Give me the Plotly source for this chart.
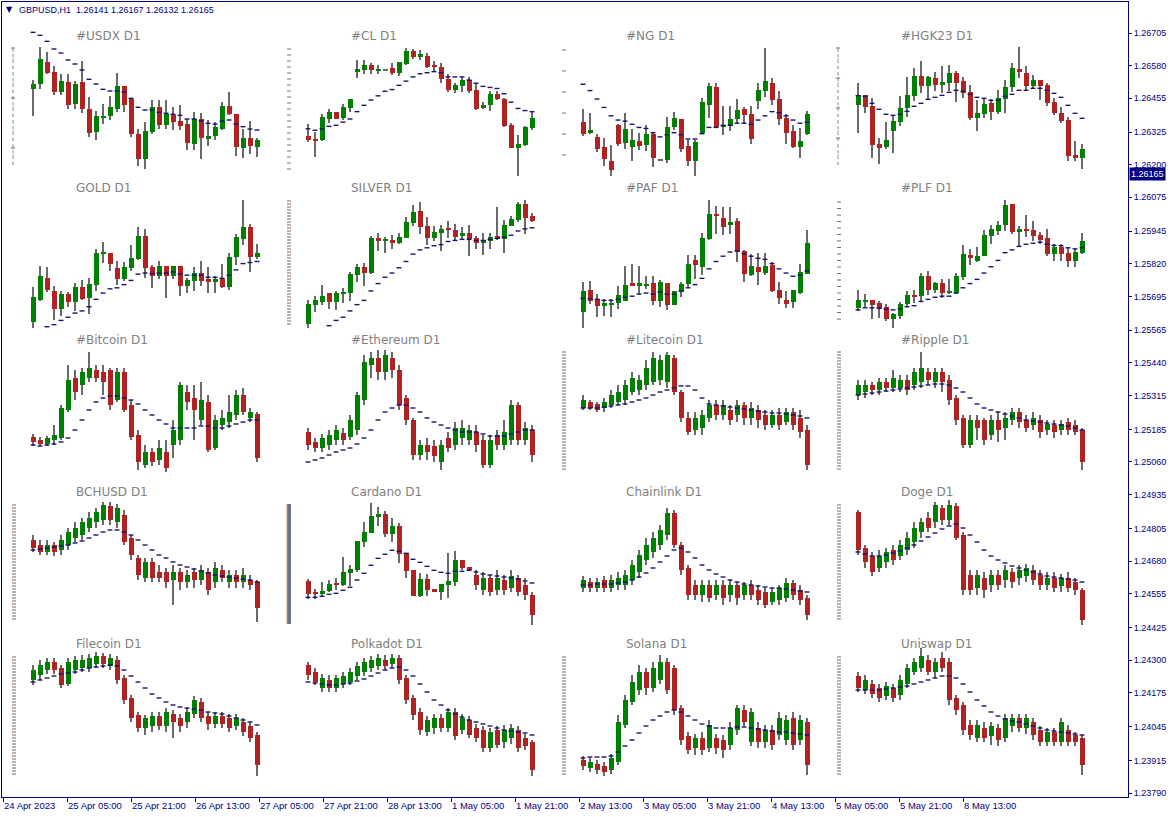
import plotly.graph_objects as go

# ---------------- main chart axis data ----------------
MAIN_TITLE = "GBPUSD,H1  1.26141 1.26167 1.26132 1.26165"
LAST_PRICE = 1.26165
PRICE_TICKS = ["1.26705", "1.26580", "1.26455", "1.26325", "1.26200", "1.26075", "1.25945",
               "1.25820", "1.25695", "1.25565", "1.25440", "1.25315", "1.25185", "1.25060",
               "1.24935", "1.24805", "1.24680", "1.24555", "1.24425", "1.24300", "1.24175",
               "1.24045", "1.23915", "1.23790"]
PRICE_RANGE = [1.23775, 1.26824]
TIME_TICKS = ["24 Apr 2023", "25 Apr 05:00", "25 Apr 21:00", "26 Apr 13:00", "27 Apr 05:00",
              "27 Apr 21:00", "28 Apr 13:00", "1 May 05:00", "1 May 21:00", "2 May 13:00",
              "3 May 05:00", "3 May 21:00", "4 May 13:00", "5 May 05:00", "5 May 21:00",
              "8 May 13:00"]
BARS_PER_LABEL = 16
H1_BARS = 281.5

# ---------------- dashboard panels (relative price levels) ----------------
PANEL_NAMES = ["#USDX D1", "#CL D1", "#NG D1", "#HGK23 D1",
               "GOLD D1", "SILVER D1", "#PAF D1", "#PLF D1",
               "#Bitcoin D1", "#Ethereum D1", "#Litecoin D1", "#Ripple D1",
               "BCHUSD D1", "Cardano D1", "Chainlink D1", "Doge D1",
               "Filecoin D1", "Polkadot D1", "Solana D1", "Uniswap D1"]

USDX_O = [333,348,415,384,324,354,289,354,273,205,247,252,274,342,304,198,124,205,279,225,255,237,228,169,243,184,193,214,282,258,157,187,160]
USDX_H = [360,460,445,402,378,378,358,417,309,267,288,312,381,342,304,214,234,301,301,301,279,285,243,264,260,240,234,294,324,258,213,237,187]
USDX_L = [252,333,378,315,315,274,274,262,188,181,228,240,264,264,188,103,94,198,214,214,211,211,151,151,124,163,181,211,255,133,127,138,130]
USDX_C = [348,423,381,324,358,286,348,274,202,252,252,279,342,286,199,124,207,279,225,258,235,223,171,243,187,193,220,282,259,160,187,163,180]
USDX_MA = [503,494,476,453,441,420,408,390,362,348,332,327,327,324,305,278,270,270,263,260,257,254,243,243,237,230,228,237,240,228,220,213,210]

CL_O = [284,276,273,333,351,336,363,466,472,486,472,472,477,463,490,525,508,513,486,480,447,415,427,444,414,363,372,404,390,315,250,259,306]
CL_H = [317,294,345,360,351,374,390,501,501,492,486,472,492,495,534,531,528,520,498,492,459,435,453,453,432,381,413,413,393,320,286,312,353]
CL_L = [267,225,268,322,333,330,352,448,460,460,460,472,457,454,487,502,499,478,466,436,409,406,409,406,358,360,354,386,310,248,168,256,300]
CL_C = [273,268,338,351,333,366,390,474,486,472,474,472,463,495,525,508,516,481,481,445,415,429,444,412,361,372,404,388,312,250,261,309,336]
CL_MA = [304,300,304,311,314,323,332,353,371,386,398,411,416,428,440,452,461,464,467,464,452,452,452,443,434,425,422,419,404,380,362,356,353]

NG_O = [324,292,282,252,213,315,265,253,270,259,288,216,214,309,333,255,211,291,372,423,309,312,333,360,345,384,412,435,390,336,297,253,288]
NG_H = [360,348,289,279,258,318,348,303,291,315,291,216,339,351,333,273,273,393,435,435,369,369,390,366,369,435,534,450,411,345,315,306,354]
NG_L = [283,289,238,199,169,256,247,211,244,241,196,216,208,300,238,199,169,288,336,306,285,297,321,318,261,360,396,372,315,261,250,220,285]
NG_C = [289,300,247,217,187,262,303,273,256,288,220,216,309,336,247,211,267,381,426,309,315,333,357,342,276,414,441,387,333,291,252,270,345]
NG_MA = [431,413,389,365,341,329,326,317,308,305,293,281,287,293,287,275,275,290,308,308,314,314,320,320,317,329,341,353,350,341,329,320,323]

HGK23_O = [345,374,342,228,219,268,295,336,373,432,403,426,406,412,441,417,384,307,319,351,325,364,399,453,441,403,420,405,354,321,301,195,187]
HGK23_H = [412,374,365,246,294,315,372,429,456,478,432,444,462,465,447,429,405,360,367,364,390,420,471,519,462,435,420,411,366,339,309,237,228]
HGK23_L = [262,322,187,169,214,202,282,309,358,382,360,388,382,388,355,367,299,268,307,301,319,322,385,426,390,396,361,343,316,292,178,178,154]
HGK23_C = [374,339,225,217,240,297,336,375,432,403,429,406,414,441,412,382,307,321,348,325,366,399,456,445,403,420,403,351,322,298,193,187,213]
HGK23_MA = [373,371,350,332,317,314,317,326,341,350,362,368,374,383,389,386,377,368,365,359,359,371,377,389,389,395,395,389,380,368,344,320,305]

GOLD_O = [190,253,315,279,226,270,247,288,259,295,385,387,342,313,342,369,435,345,322,348,322,348,292,307,330,312,304,312,289,375,427,459,375]
GOLD_H = [288,348,345,291,279,276,302,309,315,399,417,387,363,360,408,459,456,351,363,348,348,348,315,345,363,345,321,354,387,441,537,468,411]
GOLD_L = [172,250,274,196,208,232,220,253,211,277,357,336,294,307,336,366,316,286,313,259,313,265,271,277,292,271,271,286,280,351,409,333,369]
GOLD_C = [261,321,280,226,270,247,288,256,297,387,387,355,313,345,372,435,342,322,348,322,348,292,309,330,307,304,312,289,375,432,459,375,387]
GOLD_MA = [None,None,176,182,194,203,215,221,233,254,272,284,287,296,308,326,329,327,329,329,332,326,323,323,323,317,317,314,323,338,356,359,362]

SILVER_O = [184,238,247,273,247,271,271,324,345,330,429,420,423,414,429,471,507,462,429,444,456,453,435,444,429,414,420,435,426,462,480,525,492]
SILVER_H = [253,265,294,273,279,286,333,354,357,435,444,432,438,444,489,522,531,489,462,465,477,468,459,465,435,444,444,516,480,492,531,537,501]
SILVER_L = [172,217,238,226,223,244,250,304,292,327,393,387,399,411,429,462,441,408,420,393,429,420,423,378,399,381,399,423,387,462,474,441,474]
SILVER_C = [240,252,264,247,273,273,327,345,330,429,420,426,414,432,474,504,459,429,447,456,453,432,444,426,414,423,432,426,465,483,525,486,477]
SILVER_MA = [None,None,None,179,194,203,221,239,251,278,299,317,329,344,362,383,395,401,407,410,419,422,425,425,422,422,425,428,431,437,449,455,458]

PAF_O = [217,282,255,235,238,244,250,300,292,294,300,250,300,238,276,297,366,345,426,498,486,465,477,393,324,345,330,351,282,252,247,273,327]
PAF_H = [303,306,270,255,255,291,348,354,348,321,321,309,300,279,303,381,381,444,537,519,516,516,486,396,384,387,387,360,303,279,282,354,453]
PAF_L = [172,241,205,208,205,226,250,292,270,284,238,232,223,238,261,288,312,324,423,441,438,441,360,303,321,294,324,276,240,229,229,268,327]
PAF_C = [279,250,235,243,243,267,294,292,300,297,250,303,238,279,297,354,351,429,498,492,459,474,390,327,348,333,348,279,258,241,282,333,414]
PAF_MA = [257,256,254,251,251,254,260,263,269,272,269,275,269,269,278,287,296,314,341,362,377,389,392,384,377,371,368,356,341,329,320,323,335]

PLF_O = [228,247,252,243,231,199,208,240,267,264,321,282,300,273,273,318,381,363,378,435,450,465,525,447,456,453,438,429,384,402,387,363,387]
PLF_H = [282,270,252,249,240,214,247,279,282,330,336,303,312,312,330,408,399,402,453,465,477,537,525,462,495,477,447,456,411,411,402,399,444]
PLF_L = [222,231,199,202,193,172,199,234,243,246,267,273,258,270,270,309,351,360,378,411,438,450,441,405,432,420,411,378,363,363,345,345,384]
PLF_C = [252,252,238,226,199,211,240,267,261,321,282,300,273,279,321,384,372,378,438,456,465,522,447,456,450,435,423,384,402,384,363,390,420]
PLF_MA = [224,230,230,229,226,224,227,233,236,248,254,260,263,263,272,287,299,311,329,347,365,387,395,405,411,414,417,411,408,407,401,398,401]

BTC_O = [563,560,556,560,562,590,622,615,622,630,628,630,600,628,595,565,535,548,540,548,555,560,608,602,580,598,552,575,578,585,605,582,586]
BTC_H = [566,563,564,575,595,635,630,632,648,635,635,632,632,632,600,570,555,552,560,560,580,618,615,615,618,605,585,590,605,610,612,592,588]
BTC_L = [554,554,554,555,560,588,600,605,618,618,605,590,598,588,560,530,532,534,535,528,542,555,590,560,575,548,550,570,572,580,585,578,538]
BTC_C = [558,556,562,565,592,620,608,628,632,622,618,595,628,590,563,538,548,538,552,532,570,615,598,590,600,550,580,582,588,605,588,588,542]
BTC_MA = [555,554,555,556,558,562,570,580,590,598,602,604,604,602,600,596,590,585,580,576,572,572,572,572,574,574,572,572,574,576,578,580,580]

ETH_O = [568,558,552,555,560,567,563,570,600,635,642,628,642,630,602,580,545,555,554,538,562,555,562,560,568,560,535,565,555,560,595,560,570]
ETH_H = [572,562,566,570,575,572,585,608,645,648,650,650,648,635,605,582,560,562,560,560,568,578,580,575,575,565,565,570,580,600,598,578,575]
ETH_L = [550,548,548,550,555,555,560,565,595,622,620,620,622,590,575,540,540,540,538,530,548,550,555,555,548,532,532,550,550,555,555,555,538]
ETH_C = [555,552,562,565,570,560,580,605,638,642,628,645,630,595,580,545,555,548,544,555,552,572,572,570,555,535,560,555,568,595,560,572,545]
ETH_MA = [538,540,542,545,548,550,552,556,562,570,580,588,592,595,595,592,588,582,578,575,572,570,568,568,568,566,564,564,564,566,568,570,570]

LTC_O = [592,598,596,592,595,598,600,608,610,615,618,620,618,642,608,582,570,572,582,595,585,590,585,595,582,590,585,575,585,578,588,582,570]
LTC_H = [605,600,598,602,610,615,620,628,625,640,648,645,648,645,610,588,588,590,600,600,600,595,600,598,598,595,590,590,592,592,592,590,575]
LTC_L = [590,590,588,588,592,595,595,605,605,610,615,615,612,605,578,565,565,565,578,580,580,575,578,575,575,572,570,572,570,575,570,562,530]
LTC_C = [600,592,590,598,605,608,615,622,620,632,642,640,645,608,582,568,582,585,595,585,595,580,595,582,592,580,575,585,575,588,575,568,535]
LTC_MA = [592,592,592,593,594,595,596,598,600,602,605,608,610,612,614,614,610,602,596,595,594,593,592,591,590,589,588,587,587,586,585,584,582]

XRP_O = [605,608,615,610,618,612,612,620,615,618,628,618,628,620,602,582,555,580,580,565,580,572,580,588,580,575,580,570,575,570,578,575,570]
XRP_H = [620,620,618,622,622,630,625,625,632,648,632,632,632,625,605,585,585,585,582,585,588,588,592,592,585,588,585,580,580,580,582,580,572]
XRP_L = [600,602,605,605,608,608,608,605,610,612,615,612,608,595,575,552,552,560,555,560,558,560,575,572,568,570,562,565,562,565,565,565,530]
XRP_C = [615,615,610,618,612,622,620,610,628,632,620,628,618,600,580,555,580,572,560,580,570,582,588,578,572,582,568,576,568,576,570,568,538]
XRP_MA = [605,606,607,608,609,610,611,612,613,614,615,616,616,615,612,608,602,596,592,590,588,586,584,582,580,579,578,577,576,575,574,572,570]

BCH_O = [460,455,448,455,450,455,462,465,472,478,480,494,478,485,462,442,422,438,428,428,420,428,418,428,420,428,418,430,418,425,418,420,418]
BCH_H = [465,460,460,458,465,472,478,482,488,492,498,498,496,490,465,445,442,442,435,432,435,432,430,432,435,432,438,435,430,430,432,425,420]
BCH_L = [448,445,445,444,445,450,458,460,468,472,475,475,472,455,440,420,418,418,418,412,395,410,412,412,415,405,412,418,412,412,412,410,378]
BCH_C = [452,448,455,448,460,468,472,478,482,488,495,480,492,458,445,425,438,422,422,418,428,418,425,420,430,410,432,422,425,418,425,415,392]
BCH_MA = [450,451,452,453,454,455,457,459,462,465,468,470,470,468,465,460,455,450,445,442,438,435,433,431,429,427,425,424,423,422,421,420,418]

ADA_O = [297,261,259,267,288,286,321,330,414,441,489,498,439,462,381,330,253,303,273,265,286,294,360,339,315,270,306,270,300,276,306,285,255]
ADA_H = [303,274,294,301,306,369,345,417,474,531,519,507,486,471,381,330,321,318,273,288,381,387,360,339,330,324,315,330,315,330,315,306,264]
ADA_L = [243,243,252,264,270,282,282,324,400,441,462,430,414,352,307,253,250,253,265,241,247,282,330,330,270,255,252,255,255,264,252,240,165]
ADA_C = [259,259,267,288,286,324,333,417,444,492,498,439,462,379,328,253,303,270,265,288,297,360,337,330,285,306,264,306,270,312,264,255,195]
ADA_MA = [248,248,251,257,260,269,278,300,320,344,365,377,389,386,380,362,353,341,329,323,320,326,326,329,324,318,315,312,309,306,303,297,291]

LINK_O = [412,418,412,420,412,415,415,420,428,440,448,455,465,487,455,432,415,405,415,405,415,405,415,405,415,410,408,398,400,402,417,410,402]
LINK_H = [424,422,422,424,425,428,430,440,450,462,468,475,492,490,458,435,420,420,420,420,420,420,418,418,420,415,412,412,415,422,420,415,405]
LINK_L = [408,408,408,408,408,410,410,415,422,435,442,450,460,452,425,400,400,398,398,400,395,398,395,400,400,395,392,395,395,398,400,395,380]
LINK_C = [420,412,418,412,420,422,425,435,445,455,462,470,487,455,430,405,405,415,402,415,402,415,402,415,405,400,395,408,412,417,405,400,385]
LINK_MA = [415,415,416,416,416,417,418,420,423,427,432,438,444,450,452,448,442,435,430,426,423,420,418,416,415,414,413,412,412,411,410,409,408]

DOGE_O = [488,452,444,432,438,450,444,450,458,468,482,478,492,480,494,465,425,412,422,415,425,420,428,422,424,430,425,415,422,414,422,418,410]
DOGE_H = [490,455,448,450,452,455,460,468,478,482,488,498,495,500,497,468,430,430,428,430,430,435,432,435,436,435,430,428,428,426,428,422,412]
DOGE_L = [445,432,424,428,432,435,440,445,452,462,468,472,475,475,460,405,405,405,402,408,410,412,412,415,418,415,410,410,408,408,408,405,375]
DOGE_C = [450,438,428,444,448,440,455,462,472,478,472,495,480,495,462,410,410,425,410,425,415,430,418,430,432,420,415,422,412,422,412,410,380]
DOGE_MA = [448,446,444,444,445,447,449,452,455,459,463,467,471,474,476,472,465,458,450,444,440,437,434,432,430,428,426,424,423,422,421,420,418]

FIL_O = [320,325,330,338,332,316,330,332,332,336,344,334,340,322,302,285,272,274,284,274,286,282,278,286,298,284,276,284,282,274,278,274,265]
FIL_H = [335,340,342,342,335,342,344,345,346,348,347,346,344,325,305,288,285,288,288,292,290,286,292,304,302,288,288,288,286,286,282,278,268]
FIL_L = [315,320,326,326,312,314,326,328,328,332,332,330,316,296,278,268,265,268,270,268,262,268,272,282,278,270,272,272,268,270,264,258,224]
FIL_C = [330,335,338,330,315,338,340,340,342,344,336,342,320,300,282,272,282,284,274,288,278,274,288,300,282,276,284,276,272,282,268,262,235]
FIL_MA = [318,320,322,324,326,327,328,330,332,333,334,335,334,330,324,318,312,306,302,298,295,293,292,291,290,288,287,286,284,282,280,278,275]

DOT_O = [335,328,312,320,312,316,318,324,328,332,334,340,336,342,322,302,288,268,272,282,272,288,270,280,272,270,252,270,258,262,270,262,258]
DOT_H = [338,332,326,325,325,328,332,338,342,344,346,345,346,345,325,305,292,284,286,286,292,292,286,284,276,274,272,274,275,276,274,266,260]
DOT_L = [320,315,308,308,308,312,315,320,324,328,330,330,332,316,296,280,265,264,266,268,268,260,266,262,258,248,248,252,252,256,248,250,224]
DOT_C = [325,318,322,312,322,324,328,334,338,340,342,334,342,320,300,285,270,280,282,272,288,264,282,265,262,252,268,255,270,272,252,254,230]
DOT_MA = [318,317,316,315,315,316,317,319,321,324,327,330,332,333,330,324,316,308,300,295,290,286,283,280,278,276,274,272,270,269,268,267,265]

SOL_O = [240,232,236,234,230,238,275,298,310,328,312,320,338,332,292,264,252,262,252,262,260,255,270,290,258,272,258,270,265,260,282,260,278]
SOL_H = [244,242,240,238,246,285,305,325,335,332,338,345,342,335,295,268,266,268,280,266,265,278,295,295,292,278,275,275,288,285,288,285,282]
SOL_L = [230,228,226,224,226,235,272,295,305,305,308,316,306,285,255,246,245,245,248,246,242,250,265,274,254,252,252,250,260,255,250,255,225]
SOL_C = [234,238,230,228,242,278,300,318,328,312,332,338,310,290,260,250,262,250,275,252,250,272,292,278,288,258,270,255,282,280,255,280,235]
SOL_MA = [242,243,243,243,244,248,254,260,267,274,280,284,288,290,288,284,280,276,274,272,272,272,273,273,272,271,270,269,268,268,267,266,265]

UNI_O = [324,310,316,312,304,312,305,316,328,332,340,328,342,338,302,295,275,262,272,264,272,262,274,282,272,278,270,258,268,258,270,265,262]
UNI_H = [328,325,320,316,318,316,325,336,342,352,345,342,348,342,305,298,280,280,278,278,276,286,286,286,286,282,274,272,272,282,275,268,265]
UNI_L = [308,306,302,298,300,298,300,312,325,328,325,322,328,295,285,265,260,258,258,255,254,258,268,268,266,260,254,254,254,254,254,254,225]
UNI_C = [312,320,306,302,314,302,320,332,338,344,328,338,332,300,290,270,265,275,262,274,260,282,282,272,282,265,258,268,258,278,258,258,235]
UNI_MA = [310,310,310,310,311,312,313,314,316,318,320,322,324,324,322,316,308,300,294,288,284,281,279,278,276,274,272,270,269,268,267,266,265]

PANEL_DATA = [
    (USDX_O, USDX_H, USDX_L, USDX_C, USDX_MA),
    (CL_O, CL_H, CL_L, CL_C, CL_MA),
    (NG_O, NG_H, NG_L, NG_C, NG_MA),
    (HGK23_O, HGK23_H, HGK23_L, HGK23_C, HGK23_MA),
    (GOLD_O, GOLD_H, GOLD_L, GOLD_C, GOLD_MA),
    (SILVER_O, SILVER_H, SILVER_L, SILVER_C, SILVER_MA),
    (PAF_O, PAF_H, PAF_L, PAF_C, PAF_MA),
    (PLF_O, PLF_H, PLF_L, PLF_C, PLF_MA),
    (BTC_O, BTC_H, BTC_L, BTC_C, BTC_MA),
    (ETH_O, ETH_H, ETH_L, ETH_C, ETH_MA),
    (LTC_O, LTC_H, LTC_L, LTC_C, LTC_MA),
    (XRP_O, XRP_H, XRP_L, XRP_C, XRP_MA),
    (BCH_O, BCH_H, BCH_L, BCH_C, BCH_MA),
    (ADA_O, ADA_H, ADA_L, ADA_C, ADA_MA),
    (LINK_O, LINK_H, LINK_L, LINK_C, LINK_MA),
    (DOGE_O, DOGE_H, DOGE_L, DOGE_C, DOGE_MA),
    (FIL_O, FIL_H, FIL_L, FIL_C, FIL_MA),
    (DOT_O, DOT_H, DOT_L, DOT_C, DOT_MA),
    (SOL_O, SOL_H, SOL_L, SOL_C, SOL_MA),
    (UNI_O, UNI_H, UNI_L, UNI_C, UNI_MA),
]

# vertical scale of each panel: (pixel origin, units per pixel)
PANEL_SCALE = [(0, 3), (25, 2.851), (25, 2.851), (20, 3),
               (178, 2.851), (178, 2.851), (178, 2.851), (178, 2.851),
               (400, 1), (400, 1), (400, 1), (400, 1),
               (400, 1), (480, 3), (400, 1), (400, 1),
               (400, 1), (400, 1), (400, 1), (400, 1)]

# ---------------- styling / geometry ----------------
W, H = 1174, 817
PL, PR, PT, PB = 2, 1128, 2, 797
NAVY = "#000080"
UP, DOWN, WICK, DOJI, MA_COL = "#008000", "#b22222", "#6a6a6a", "#6a6a6a", "#14146a"
FONT = "Liberation Sans"


def fx(px):
    return (px - PL) / (PR - PL)


def fy(py):
    return (PB - py) / (PB - PT)


fig = go.Figure()

# main (GBPUSD H1) axes
fig.add_trace(go.Scatter(x=[0], y=[LAST_PRICE], mode="markers", marker=dict(opacity=0),
                         hoverinfo="skip", showlegend=False))

layout = dict(
    width=W, height=H, margin=dict(l=PL, r=W - PR, t=PT, b=H - PB),
    paper_bgcolor="white", plot_bgcolor="white", showlegend=False,
    barmode="overlay", bargap=0,
    xaxis=dict(range=[-0.25, H1_BARS - 0.25],
               tickvals=[i * BARS_PER_LABEL for i in range(len(TIME_TICKS))],
               ticktext=TIME_TICKS, ticks="outside", ticklen=4, tickcolor=NAVY,
               ticklabelposition="outside right",
               showline=True, linecolor=NAVY, linewidth=1, mirror=True,
               showgrid=False, zeroline=False, fixedrange=True,
               tickfont=dict(family=FONT, size=9.5, color=NAVY)),
    yaxis=dict(side="right", range=PRICE_RANGE,
               tickvals=[float(t) for t in PRICE_TICKS], ticktext=PRICE_TICKS,
               ticks="outside", ticklen=3, tickcolor=NAVY,
               showline=True, linecolor=NAVY, linewidth=1, mirror=True,
               showgrid=False, zeroline=False, fixedrange=True,
               tickfont=dict(family=FONT, size=9, color=NAVY)),
)

annotations = []
shapes = []

for k, name in enumerate(PANEL_NAMES):
    r, c = divmod(k, 4)
    ax = k + 2
    x0 = 33 + 275 * c
    yt, yb = 24 + 152 * r, 184 + 152 * r
    oy, f = PANEL_SCALE[k]
    vtop = 600 - (yt - oy) * f
    vbot = 600 - (yb - oy) * f
    layout[f"xaxis{ax}"] = dict(domain=[fx(x0 - 21), fx(x0 + 245)], range=[-3, 35],
                                visible=False, anchor=f"y{ax}", fixedrange=True)
    layout[f"yaxis{ax}"] = dict(domain=[fy(yb), fy(yt)], range=[vbot, vtop],
                                visible=False, anchor=f"x{ax}", fixedrange=True)
    o, h, l, cl, ma = PANEL_DATA[k]
    n = len(o)
    idx = list(range(n))
    fig.add_trace(go.Bar(x=idx, y=[h[i] - l[i] for i in idx], base=[l[i] for i in idx],
                         width=1 / 7, marker=dict(color=WICK, line=dict(width=0)),
                         xaxis=f"x{ax}", yaxis=f"y{ax}", hoverinfo="skip"))
    minh = 1.0 * f
    bases, hts, cols = [], [], []
    for i in idx:
        lo, hi = min(o[i], cl[i]), max(o[i], cl[i])
        if hi - lo < minh:
            mid = (lo + hi) / 2
            lo, hi = mid - minh / 2, mid + minh / 2
        bases.append(lo)
        hts.append(hi - lo)
        if cl[i] > o[i]:
            cols.append(UP)
        elif cl[i] < o[i]:
            cols.append(DOWN)
        else:
            cols.append(DOJI)
    fig.add_trace(go.Bar(x=idx, y=hts, base=bases, width=5 / 7,
                         marker=dict(color=cols, line=dict(width=0)),
                         xaxis=f"x{ax}", yaxis=f"y{ax}", hoverinfo="skip"))
    fig.add_trace(go.Scatter(x=list(range(len(ma))), y=ma, mode="markers",
                             marker=dict(symbol="line-ew", size=3.5,
                                         line=dict(width=1.4, color=MA_COL)),
                             cliponaxis=False,
                             xaxis=f"x{ax}", yaxis=f"y{ax}", hoverinfo="skip"))
    annotations.append(dict(text=name, xref="paper", yref="paper",
                            x=fx(74 + 275 * c), y=fy(36 + 152 * r),
                            xanchor="left", yanchor="middle", showarrow=False,
                            font=dict(family="DejaVu Sans", size=12, color="#808080")))

# panel side scales (decoration)
SCALE_DECOR = [
    dict(x=13, y0=48, y1=165, ticks=[48, 98, 148], line=True),
    dict(x=289, y0=49, y1=169, step=6, line=False),
    dict(x=564, y0=50, y1=155, step=21, line=False),
    dict(x=838, y0=48, y1=167, ticks=[48, 78, 108, 138], line=True),
    dict(x=289, y0=201, y1=325, step=3, line=False),
    dict(x=839, y0=202, y1=321, step=6.5, line=False),
    dict(x=564, y0=352, y1=470, step=3, line=False),
    dict(x=839, y0=352, y1=470, step=3, line=False),
    dict(x=14, y0=505, y1=620, step=3, line=False),
    dict(x=839, y0=505, y1=620, step=3, line=False),
    dict(x=14, y0=657, y1=775, step=3, line=False),
    dict(x=564, y0=657, y1=775, step=3, line=False),
    dict(x=839, y0=657, y1=775, step=3, line=False),
]
for s in SCALE_DECOR:
    if s["line"]:
        shapes.append(dict(type="line", xref="paper", yref="paper",
                           x0=fx(s["x"]), x1=fx(s["x"]), y0=fy(s["y0"]), y1=fy(s["y1"]),
                           line=dict(color="#8cc0ec", width=1.5, dash="dot")))
        shapes.append(dict(type="line", xref="paper", yref="paper",
                           x0=fx(s["x"] + 0.1), x1=fx(s["x"] + 0.1), y0=fy(s["y0"] + 2), y1=fy(s["y1"]),
                           line=dict(color="#e0a050", width=1, dash="2px,6px")))
        tks = s["ticks"]
    else:
        tks = []
        t = s["y0"]
        while t <= s["y1"] + 0.01:
            tks.append(t)
            t += s["step"]
    for t in tks:
        shapes.append(dict(type="line", xref="paper", yref="paper",
                           x0=fx(s["x"] - 2), x1=fx(s["x"] + 2), y0=fy(t), y1=fy(t),
                           line=dict(color="#806a5a", width=1)))

# Cardano thick scale bar
shapes.append(dict(type="rect", xref="paper", yref="paper",
                   x0=fx(287), x1=fx(291), y0=fy(624), y1=fy(504),
                   fillcolor="#6c7088", line=dict(width=0)))
shapes.append(dict(type="line", xref="paper", yref="paper",
                   x0=fx(287), x1=fx(287), y0=fy(624), y1=fy(504),
                   line=dict(color="#c8a060", width=1)))

# header text
annotations.append(dict(text="▼", xref="paper", yref="paper", x=fx(4), y=fy(10),
                        xanchor="left", yanchor="middle", showarrow=False,
                        font=dict(family="DejaVu Sans", size=8, color=NAVY)))
annotations.append(dict(text=MAIN_TITLE.replace("  ", "&nbsp; "), xref="paper", yref="paper",
                        x=fx(17), y=fy(10), xanchor="left", yanchor="middle", showarrow=False,
                        font=dict(family=FONT, size=9, color=NAVY)))
# last price marker
annotations.append(dict(text=f"{LAST_PRICE:.5f}", xref="paper", yref="y", x=1.0005, y=LAST_PRICE,
                        xanchor="left", yanchor="middle", showarrow=False, bgcolor=NAVY,
                        borderpad=1, font=dict(family=FONT, size=9, color="white")))

layout["annotations"] = annotations
layout["shapes"] = shapes
fig.update_layout(**layout)
fig.write_html("out.html")
